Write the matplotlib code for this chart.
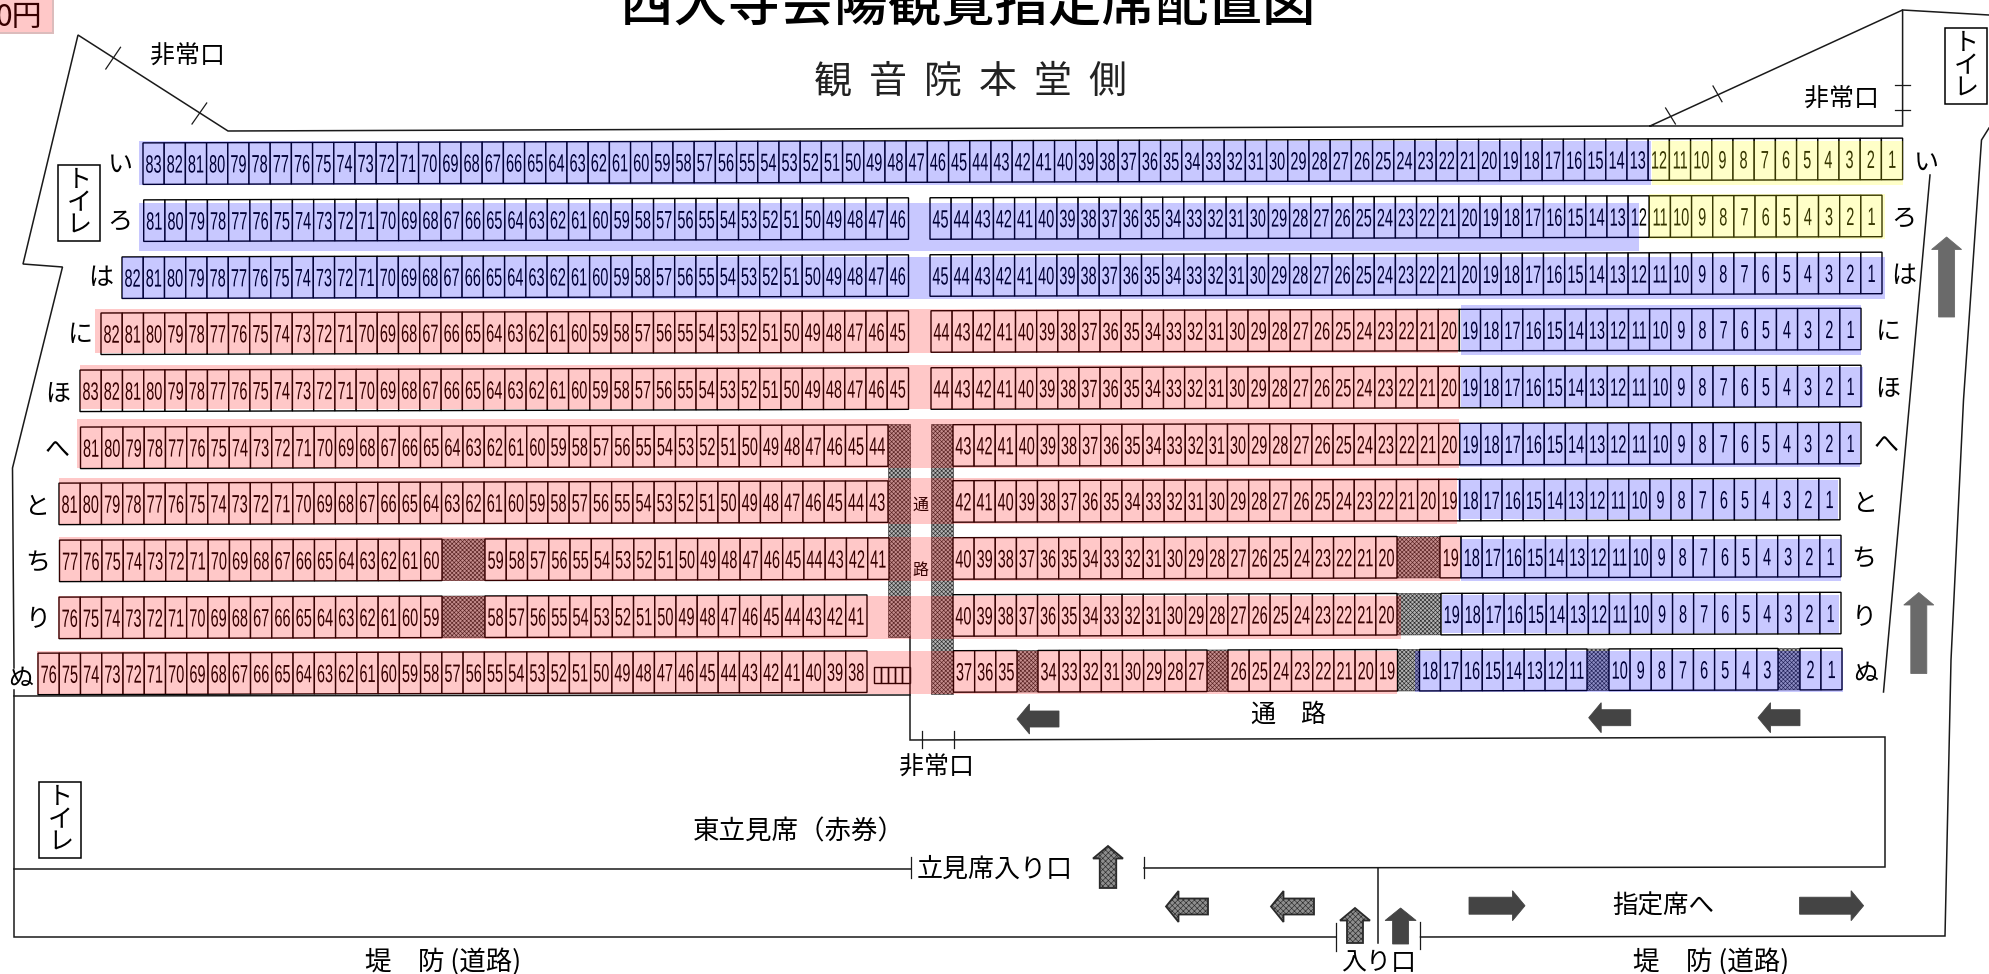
import matplotlib
matplotlib.use("Agg")
import matplotlib.pyplot as plt
from matplotlib.patches import Rectangle, Polygon
from matplotlib.patheffects import AbstractPathEffect
from matplotlib.transforms import Affine2D

plt.rcParams['font.family'] = ['Noto Sans CJK JP', 'DejaVu Sans']
plt.rcParams['hatch.linewidth'] = 0.45

# seat numbers per row, one (first, last) pair per unbroken block
row_names = ['い', 'ろ', 'は', 'に', 'ほ', 'へ', 'と', 'ち', 'り', 'ぬ']
seats_i = [(83, 1)]
seats_ro = [(81, 46), (45, 1)]
seats_ha = [(82, 46), (45, 1)]
seats_ni = [(82, 45), (44, 1)]
seats_ho = [(83, 45), (44, 1)]
seats_he = [(81, 44), (43, 1)]
seats_to = [(81, 43), (42, 1)]
seats_chi = [(77, 60), (59, 41), (40, 20), (19, 1)]
seats_ri = [(76, 59), (58, 41), (40, 20), (19, 1)]
seats_nu = [(76, 38), (37, 35), (34, 27), (26, 19), (18, 11), (10, 3), (2, 1)]
row_seats = [seats_i, seats_ro, seats_ha, seats_ni, seats_ho, seats_he,
             seats_to, seats_chi, seats_ri, seats_nu]

# layout, in pixels of the scan
block_x = [
    [(143, 1902.6)],
    [(143.7, 908.5), (930, 1882)],
    [(122, 908.5), (930, 1882)],
    [(101, 908.5), (931, 1861)],
    [(80, 908.5), (931, 1861)],
    [(80.5, 888), (953, 1861)],
    [(59, 888), (953, 1840)],
    [(59.5, 442), (485, 889), (953, 1397), (1440, 1841)],
    [(59, 442), (485, 867), (953, 1397), (1441, 1841)],
    [(38, 867), (953.5, 1017), (1038, 1207), (1228, 1397.5), (1419.5, 1587), (1609, 1778), (1800, 1842)],
]
row_top = [143, 200, 257, 313, 370, 427, 483, 540, 597, 653]
row_h = 41.5
left_label = [(120, 165), (120, 222), (101, 278), (80, 335), (58, 394),
              (57, 450), (38, 507), (38, 564), (38, 620), (21, 679)]
right_label = [(1926, 163), (1904, 219), (1904, 276), (1888, 332), (1888, 389),
               (1886, 445), (1866, 504), (1864, 560), (1864, 618), (1866, 674)]
reserved_gaps = [(7, 442, 485), (7, 1397, 1440), (8, 442, 485), (8, 1397, 1441),
                 (9, 1017, 1038), (9, 1207, 1228), (9, 1397.5, 1419.5),
                 (9, 1587, 1609), (9, 1778, 1800)]

# colour overlays: x0, x1, y0, y1 - printed slightly off register from the seats
pink_bands = [(95, 1458, 309, 353), (80, 1460, 365, 409), (77, 1459, 419, 468),
              (59, 1457, 478, 524), (59, 1460, 537, 581), (58, 1401, 596, 639),
              (37.5, 1397, 651, 694)]
blue_bands = [(139, 1651, 141, 185), (139, 1639, 203, 251), (122, 1885, 257, 299),
              (1461, 1861, 305, 355), (1461, 1863, 367, 407), (1460, 1860, 423, 467),
              (1458, 1838, 480, 519), (1461, 1841, 539, 581), (1442, 1839.5, 595, 633),
              (1415, 1842.6, 651, 692)]
yellow_bands = [(1652.5, 1903, 141, 185), (1649, 1885, 194, 239)]

# building outline
outer_wall = [(14, 668), (12.5, 468), (62.5, 267), (23, 264), (78, 35), (228, 131),
              (1650, 126), (1902.6, 10), (1902.6, 126), (1650, 126)]
wall_pieces = [
    outer_wall,
    [(14, 690), (14, 937), (1336, 937)],
    [(1420.5, 937), (1945, 936), (1951, 660), (1963.5, 400), (1981.5, 140), (1989, 128)],
    [(1902.6, 10), (1989, 15)],
    [(1930, 175), (1883.5, 692)],
    [(14, 696), (910, 695)],
    [(910, 637), (910, 740), (1885, 737), (1885, 867), (1144, 868)],
    [(14, 869), (911, 869)],
    [(1377.6, 868), (1377.6, 943)],
]
ticks = [((105.8, 69), (120.5, 47.3)), ((192, 124), (206.7, 103)),
         ((1665.6, 108), (1675.4, 124)), ((1713, 86), (1722, 101.7)),
         ((1895, 85), (1910, 85)), ((1895, 110), (1910, 110)),
         ((922, 731), (922, 748)), ((953.6, 731), (953.6, 748)),
         ((911, 857), (911, 878)), ((1144, 857), (1144, 878)),
         ((1336, 923), (1336, 951)), ((1420, 922), (1420, 949))]

toilet_boxes = [(58, 165, 42, 76), (1945.5, 28, 41.5, 76), (39.5, 782, 42, 76)]

# tip direction, centre x, centre y, length, head width, shaft width, style
arrows = [('up', 1946.6, 277, 80, 30, 16, 'grey'), ('up', 1918.8, 633, 81, 30, 16, 'grey'),
          ('left', 1038, 719, 42, 30, 16, 'dark'), ('left', 1609.7, 717.7, 42, 30, 16, 'dark'),
          ('left', 1779, 717.7, 42, 30, 16, 'dark'),
          ('right', 1497, 905.7, 56, 30, 17, 'dark'), ('right', 1831.6, 905.7, 64, 30, 17, 'dark'),
          ('up', 1108, 867, 42, 30, 16.5, 'dotted'),
          ('left', 1187, 906.5, 42, 31, 16, 'dotted'), ('left', 1292.5, 906.5, 43, 31, 16, 'dotted'),
          ('up', 1355, 925.5, 35, 30, 16, 'dotted'), ('up', 1400.6, 926, 36, 31, 16, 'dark')]

# text, x, y, size in px
labels = [('非常口', 187.5, 56.5, 25), ('非常口', 1842, 99.5, 25), ('非常口', 936.6, 767.5, 25),
          ('東立見席（赤券）', 799, 831.5, 26.5), ('立見席入り口', 995, 869, 26),
          ('入り口', 1379, 963, 25), ('指定席へ', 1663, 906.5, 25.5),
          ('通\u3000路', 1289, 714.5, 25), ('通', 920.5, 505, 16), ('路', 920.5, 571, 16),
          ('堤\u3000防 (道路)', 443, 962, 26.5), ('堤\u3000防 (道路)', 1711, 962, 26.5)]

px = 0.72
fig = plt.figure(figsize=(19.89, 9.74), dpi=100)
ax = fig.add_axes([0, 0, 1, 1])
ax.set_xlim(0, 1989)
ax.set_ylim(974, 0)
ax.axis('off')

# the scan leans a little, rows climb to the right
lean = Affine2D.from_values(1, -0.0027, 0, 1, 0, 0.27) + ax.transData


class Squeeze(AbstractPathEffect):
    # seat numbers are set in a very narrow face, squeeze them about their middle
    def __init__(self, factor):
        super().__init__()
        self.factor = factor

    def draw_path(self, renderer, gc, tpath, affine, rgbFace=None):
        box = tpath.get_extents()
        mid = (box.x0 + box.x1) / 2
        narrow = Affine2D().translate(-mid, 0).scale(self.factor, 1).translate(mid, 0)
        renderer.draw_path(gc, tpath, narrow + affine, rgbFace)


narrow_digits = [Squeeze(0.58)]


def hatch_block(x0, y0, x1, y1, tr):
    ax.add_patch(Rectangle((x0, y0), x1 - x0, y1 - y0, facecolor='#b4b4b4', edgecolor='#2a2a2a',
                           hatch='xxxxxxxx', lw=0.4, transform=tr, zorder=2))


for r, blocks in enumerate(row_seats):
    for (first, last), (x0, x1) in zip(blocks, block_x[r]):
        nums = list(range(first, last - 1, -1))
        w = (x1 - x0) / len(nums)
        for k, n in enumerate(nums):
            ax.add_patch(Rectangle((x0 + k * w, row_top[r]), w, row_h, facecolor='white',
                                   edgecolor='black', lw=1.0, transform=lean, zorder=3))
            ax.text(x0 + (k + 0.5) * w, row_top[r] + row_h / 2 + 2, str(n), transform=lean, zorder=4,
                    ha='center', va='center', fontsize=25 * px, family=['Liberation Sans'],
                    path_effects=narrow_digits)
    ax.text(*left_label[r], row_names[r], ha='center', va='center', fontsize=25 * px)
    ax.text(*right_label[r], row_names[r], ha='center', va='center', fontsize=25 * px)

for r, x0, x1 in reserved_gaps:
    hatch_block(x0, row_top[r], x1, row_top[r] + row_h, lean)
hatch_block(888, 424, 910, 637, ax.transData)
hatch_block(931, 424, 953, 694, ax.transData)

# small stairs beside ぬ row
for x0, x1 in [(874, 881), (881, 888), (888, 895), (895, 902), (902, 910)]:
    ax.add_patch(Rectangle((x0, 667), x1 - x0, 16, fill=False, edgecolor='black', lw=1.0, zorder=3))

for piece in wall_pieces:
    ax.plot([p[0] for p in piece], [p[1] for p in piece], color='#1a1a1a', lw=1.1,
            solid_joinstyle='miter', zorder=3)
for a, b in ticks:
    ax.plot([a[0], b[0]], [a[1], b[1]], color='#1a1a1a', lw=0.9, zorder=3)

for x, y, w, h in toilet_boxes:
    ax.add_patch(Rectangle((x, y), w, h, facecolor='white', edgecolor='black', lw=1.1, zorder=3))
    ax.text(x + w / 2, y + h / 2, 'ト\nイ\nレ', ha='center', va='center', fontsize=25 * px,
            linespacing=0.83, zorder=4)


def arrow_shape(kind, cx, cy, length, head, shaft):
    # drawn pointing right, then turned
    hl = 12.5
    pts = [(-length / 2, -shaft / 2), (length / 2 - hl, -shaft / 2), (length / 2 - hl, -head / 2),
           (length / 2, 0), (length / 2 - hl, head / 2), (length / 2 - hl, shaft / 2),
           (-length / 2, shaft / 2)]
    if kind == 'left':
        pts = [(-a, b) for a, b in pts]
    elif kind == 'up':
        pts = [(b, -a) for a, b in pts]
    return [(cx + a, cy + b) for a, b in pts]


for kind, cx, cy, length, head, shaft, style in arrows:
    shape = arrow_shape(kind, cx, cy, length, head, shaft)
    if style == 'dotted':
        ax.add_patch(Polygon(shape, facecolor='#8e8e8e', edgecolor='#2a2a2a', hatch='xxxxxx', lw=1.3, zorder=3))
    else:
        col = '#6a6a6a' if style == 'grey' else '#444444'
        ax.add_patch(Polygon(shape, facecolor=col, edgecolor=col, lw=0.6, zorder=3))

for text, x, y, size in labels:
    ax.text(x, y, text, ha='center', va='center', fontsize=size * px, zorder=4)

ax.text(968, 21, '西大寺会陽観覧指定席配置図', ha='center', va='baseline', fontsize=53.5 * px,
        fontweight='medium', zorder=4)
ax.text(971, 82, '観  音  院  本  堂  側', ha='center', va='center', fontsize=38 * px,
        color='#222222', zorder=4)

# price tag cut by the top left corner
ax.add_patch(Rectangle((0, 0), 54.5, 34, facecolor='#dcbcbc', edgecolor='none', zorder=1))
ax.add_patch(Rectangle((0, 0), 52, 32, facecolor='#ffc8c8', edgecolor='none', zorder=1))
ax.text(42, 17, '0円', ha='right', va='center', fontsize=30 * px, color='#370000', zorder=4)

# colour overlays go on top, they tint lines and numbers as well
for bands, col in [(pink_bands, (1, 0, 0, 0.216)), (blue_bands, (0, 0, 1, 0.216)),
                   (yellow_bands, (1, 1, 0, 0.216))]:
    for x0, x1, y0, y1 in bands:
        ax.add_patch(Rectangle((x0, y0), x1 - x0, y1 - y0, facecolor=col, edgecolor='none', zorder=5))

fig.savefig('out.png', dpi=100)
